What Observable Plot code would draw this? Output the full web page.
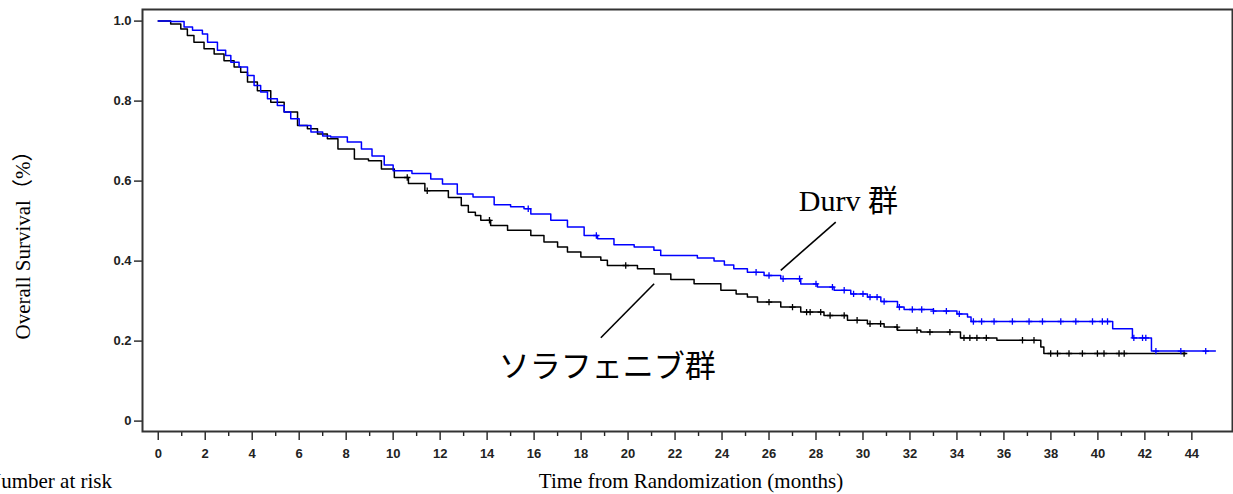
<!DOCTYPE html>
<html><head><meta charset="utf-8">
<script src="https://cdn.jsdelivr.net/npm/d3@7"></script>
<script src="https://cdn.jsdelivr.net/npm/@observablehq/plot@0.6"></script>
<style>html,body{margin:0;padding:0;background:#fff}#chart{width:1233px;height:494px;overflow:hidden}</style>
</head><body><div id="chart"></div>
<script>
// Kaplan–Meier estimates: [months, survival]
const durv = [[0,1.0],[0.53,0.999],[1.1,0.985],[1.46,0.977],[1.88,0.968],[2.1,0.947],[2.52,0.927],[2.87,0.914],[3.09,0.897],[3.44,0.885],[3.8,0.864],[4.08,0.839],[4.36,0.823],[4.65,0.806],[5.07,0.789],[5.36,0.773],[5.64,0.756],[6.0,0.739],[6.5,0.723],[7.0,0.713],[7.34,0.71],[8.05,0.698],[8.65,0.68],[9.1,0.663],[9.62,0.64],[10.0,0.626],[10.8,0.619],[11.6,0.605],[12.1,0.593],[12.73,0.568],[13.4,0.56],[14.3,0.541],[15.0,0.536],[15.57,0.531],[15.86,0.518],[16.71,0.502],[17.42,0.485],[18.13,0.464],[18.7,0.456],[19.4,0.441],[20.26,0.435],[21.1,0.427],[21.39,0.414],[22.95,0.408],[23.66,0.40],[24.1,0.39],[24.5,0.381],[25.08,0.372],[25.79,0.364],[26.5,0.356],[27.35,0.343],[28.06,0.335],[28.77,0.327],[29.48,0.318],[30.19,0.31],[30.76,0.299],[31.47,0.285],[31.75,0.279],[33.0,0.275],[34.0,0.268],[34.45,0.26],[34.6,0.249],[40.63,0.231],[41.47,0.208],[42.28,0.175],[45.0,0.175]];
const sora = [[0,1.0],[0.53,0.993],[0.96,0.98],[1.24,0.964],[1.52,0.947],[1.95,0.931],[2.38,0.918],[2.8,0.901],[3.23,0.885],[3.51,0.872],[3.8,0.848],[4.22,0.826],[4.79,0.797],[5.36,0.773],[5.93,0.739],[6.35,0.731],[6.78,0.718],[7.2,0.706],[7.65,0.68],[8.35,0.655],[8.95,0.651],[9.5,0.63],[10.05,0.609],[10.65,0.594],[11.35,0.576],[12.35,0.559],[12.9,0.539],[13.2,0.522],[13.5,0.514],[13.73,0.502],[14.15,0.489],[14.87,0.477],[15.86,0.464],[16.42,0.448],[17.0,0.435],[17.42,0.423],[17.99,0.41],[18.84,0.402],[19.12,0.389],[20.4,0.381],[21.11,0.368],[21.82,0.354],[22.81,0.3435],[23.95,0.327],[24.6,0.318],[25.08,0.31],[25.51,0.2975],[26.5,0.285],[27.35,0.2725],[28.34,0.264],[29.34,0.252],[30.19,0.2435],[30.9,0.235],[31.47,0.227],[32.46,0.2225],[34.15,0.208],[35.7,0.202],[37.57,0.185],[37.7,0.169],[43.74,0.169]];
// censoring times (months)
const durvCensor = [15.75,18.65,25.45,26.0,26.6,27.3,28.0,28.7,29.2,29.6,30.0,30.3,30.6,30.9,31.55,32.1,32.5,33.0,33.55,34.1,34.7,35.05,35.58,36.36,37.07,37.64,38.42,39.06,39.77,40.19,40.41,41.53,41.9,42.04,42.47,43.53,44.59];
const soraCensor = [10.6,11.45,14.1,19.9,26.0,27.0,27.6,27.75,28.2,28.6,29.2,29.75,30.3,30.75,31.45,32.3,32.85,33.7,34.3,34.55,34.85,35.25,36.79,37.28,37.99,38.28,38.77,39.34,39.98,40.26,40.9,41.12,43.67];
// axis ticks
const xMajorTicks = d3.range(0, 45, 2);
const xMinorTicks = d3.range(1, 45, 2);
const yTicks = [0, 0.2, 0.4, 0.6, 0.8, 1.0];
const yTickLabels = ["0", "0.2", "0.4", "0.6", "0.8", "1.0"];
// labels
const annotations = [{label: "Durv 群", t: 27.27, s: 0.549}, {label: "ソラフェニブ群", t: 14.5, s: 0.134}];
const leaders = [{t1: 28.84, s1: 0.4975, t2: 26.5, s2: 0.377}, {t1: 21.11, s1: 0.3435, t2: 18.84, s2: 0.2085}];
const yTitle = "Overall Survival（%）";
const xTitle = "Time from Randomization (months)";
const riskTitle = "Number at risk";

const serif = "'Liberation Serif','Times New Roman','Noto Sans CJK JP',serif";
const toRows = (arr) => arr.map(([t, s]) => ({t, s}));
const stepAt = (arr, c) => { let v = arr[0][1]; for (const [t, s] of arr) { if (t <= c) v = s; else break; } return v; };

const svg = Plot.plot({
  width: 1233, height: 494,
  marginLeft: 142, marginRight: 1, marginTop: 9, marginBottom: 63,
  x: {domain: [-0.67, 45.73]},
  y: {domain: [-0.026, 1.029]},
  style: {fontFamily: "'Liberation Sans',Arial,sans-serif", fontSize: "13px", fontWeight: "bold", color: "#222", background: "#fff"},
  marks: [
    Plot.axisY({ticks: yTicks, tickFormat: d => yTickLabels[yTicks.indexOf(d)], tickSize: 8, tickPadding: 3, label: null, strokeWidth: 1.4}),
    Plot.axisX({ticks: xMajorTicks, tickSize: 9, tickPadding: 8, label: null, strokeWidth: 1.4}),
    Plot.axisX({ticks: xMinorTicks, tickSize: 5, text: null, label: null, strokeWidth: 1.4}),
    Plot.frame({stroke: "#333", strokeWidth: 2}),
    Plot.line(toRows(sora), {x: "t", y: "s", curve: "step-after", stroke: "#000", strokeWidth: 1.5}),
    Plot.dot(soraCensor, {x: d => d, y: d => stepAt(sora, d), symbol: "plus", r: 2.2, stroke: "#000", strokeWidth: 1.3}),
    Plot.line(toRows(durv), {x: "t", y: "s", curve: "step-after", stroke: "#0000ff", strokeWidth: 1.5}),
    Plot.dot(durvCensor, {x: d => d, y: d => stepAt(durv, d), symbol: "plus", r: 2.2, stroke: "#0000ff", strokeWidth: 1.3}),
    Plot.link(leaders, {x1: "t1", y1: "s1", x2: "t2", y2: "s2", stroke: "#000", strokeWidth: 1.6}),
    Plot.text(annotations.slice(0, 1), {x: "t", y: "s", text: "label", textAnchor: "start", fontSize: 30, fontWeight: "normal", fontFamily: serif, fill: "#000"}),
    Plot.text(annotations.slice(1), {x: "t", y: "s", text: "label", textAnchor: "start", fontSize: 31, fontWeight: "normal", fontFamily: serif, fill: "#000"})
  ]
});
document.getElementById("chart").appendChild(svg);
const s = d3.select(svg);
s.append("text").attr("transform", "translate(23,240) rotate(-90)").attr("text-anchor", "middle").attr("dy", "0.33em")
  .style("font-family", serif).style("font-size", "21px").style("font-weight", "normal").attr("fill", "#000").text(yTitle);
s.append("text").attr("x", 691).attr("y", 488).attr("text-anchor", "middle")
  .style("font-family", serif).style("font-size", "21px").style("font-weight", "normal").attr("fill", "#000").text(xTitle);
s.append("text").attr("x", -14).attr("y", 488).attr("text-anchor", "start")
  .style("font-family", serif).style("font-size", "21px").style("font-weight", "normal").attr("fill", "#000").text(riskTitle);
</script>
</body></html>
